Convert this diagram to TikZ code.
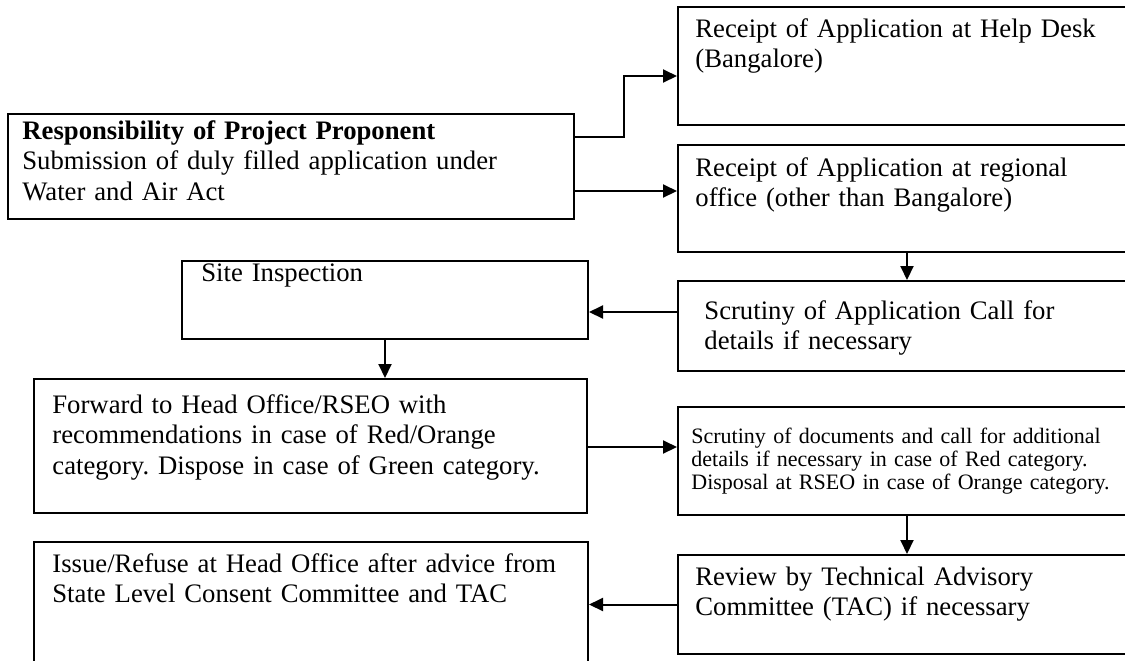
\documentclass[tikz,border=0pt]{standalone}
\usepackage{fontspec}
\setmainfont{Liberation Serif}
\usetikzlibrary{arrows.meta}
\frenchspacing
\begin{document}
\begin{tikzpicture}[x=0.5pt,y=-0.5pt,
  box/.style={draw, line width=1pt, anchor=north west, inner sep=0pt},
  txt/.style={anchor=base west, inner sep=0pt, align=left, text width=#1,
    font=\fontsize{13.35pt}{15.25pt}\selectfont},
  smalltxt/.style={anchor=base west, inner sep=0pt, align=left, text width=#1,
    font=\fontsize{11pt}{11.5pt}\selectfont},
  arr/.style={line width=1pt, -{Triangle[length=7pt,width=6.5pt]}}]
\useasboundingbox (0,0) rectangle (1125,660);
\clip (0,0) rectangle (1125,660);
% boxes
\node[box, minimum width=229pt, minimum height=59pt] (A) at (677,6) {};
\node[box, minimum width=283pt, minimum height=52.5pt] (P) at (7,113) {};
\node[box, minimum width=229pt, minimum height=53.5pt] (B) at (677,144) {};
\node[box, minimum width=203pt, minimum height=39pt] (Site) at (181,260) {};
\node[box, minimum width=229pt, minimum height=45pt] (S1) at (677,280) {};
\node[box, minimum width=276.5pt, minimum height=67pt] (Fwd) at (33,378) {};
\node[box, minimum width=229pt, minimum height=54pt] (S2) at (677,406) {};
\node[box, minimum width=277pt, minimum height=80pt] (Iss) at (33,541) {};
\node[box, minimum width=229pt, minimum height=49.5pt] (Rev) at (677,554) {};
% texts
\node[txt=220pt] (tA) at (695,37) {Receipt of Application at Help Desk\\(Bangalore)};
\node[txt=280pt] (tP) at (22,139) {\textbf{Responsibility of Project Proponent}\\Submission of duly filled application under\\Water and Air Act};
\node[txt=220pt] (tB) at (695,176) {Receipt of Application at regional\\office (other than Bangalore)};
\node[txt=190pt] (tSite) at (201,281) {Site Inspection};
\node[txt=220pt] (tS1) at (704,319) {Scrutiny of Application Call for\\details if necessary};
\node[txt=270pt] (tFwd) at (52,413) {Forward to Head Office/RSEO with\\recommendations in case of Red/Orange\\category. Dispose in case of Green category.};
\node[smalltxt=220pt] (tS2) at (691,443) {Scrutiny of documents and call for additional\\details if necessary in case of Red category.\\Disposal at RSEO in case of Orange category.};
\node[txt=270pt] (tIss) at (52,572) {Issue/Refuse at Head Office after advice from\\State Level Consent Committee and TAC};
\node[txt=220pt] (tRev) at (695,585) {Review by Technical Advisory\\Committee (TAC) if necessary};
% connectors
\coordinate (c1) at (624,137);
\coordinate (c2) at (624,76);
\coordinate (c3) at (650,191);
\coordinate (c5) at (630,312);
\coordinate (c6) at (630,447);
\draw[arr] (P.east |- c1) -- (c1) -- (c2) -- (A.west |- c2);
\draw[arr] (P.east |- c3) -- (B.west |- c3);
\draw[arr] (B.south) -- (S1.north);
\draw[arr] (S1.west |- c5) -- (Site.east |- c5);
\draw[arr] (Site.south) -- (Fwd.north -| Site.south);
\draw[arr] (Fwd.east |- c6) -- (S2.west |- c6);
\draw[arr] (S2.south) -- (Rev.north);
\draw[arr] (Rev.west) -- (Iss.east |- Rev.west);
\end{tikzpicture}
\end{document}
